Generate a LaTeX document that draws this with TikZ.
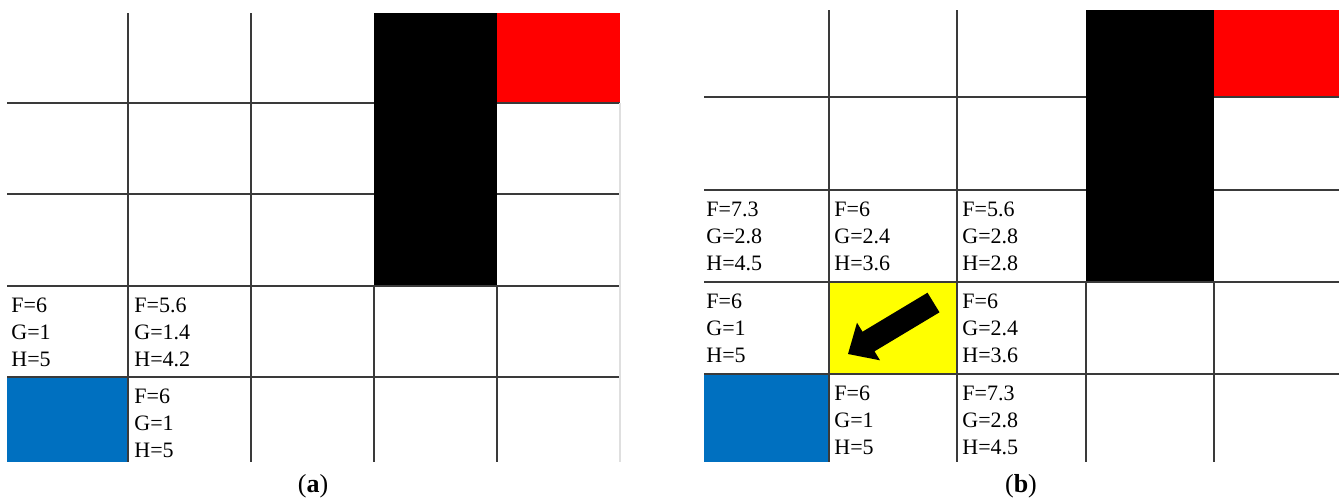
\documentclass[tikz,border=0pt]{standalone}
\usepackage{fontspec}
\setmainfont{Liberation Serif}
\definecolor{cblue}{HTML}{0070C0}
\definecolor{cred}{HTML}{FF0000}
\definecolor{cyellow}{HTML}{FFFF00}
\definecolor{gridc}{HTML}{3A3A3A}
\tikzset{
  gridline/.style={draw=gridc, line width=0.75pt},
  val/.style={anchor=base west, inner sep=0pt, font=\fontsize{11}{13}\selectfont},
  captxt/.style={font=\fontsize{13}{15}\selectfont, inner sep=0pt}
}
% \fgh{prefix}{x}{y top}{F}{G}{H}
\newcommand{\fgh}[6]{%
  \node[val] (#1F) at (#2,#3+26) {F=#4};
  \node[val] (#1G) at (#2,#3+53.5) {G=#5};
  \node[val] (#1H) at (#2,#3+80) {H=#6};
}
\begin{document}
\begin{tikzpicture}[x=0.5pt, y=-0.5pt]
\useasboundingbox (0,0) rectangle (1343,499);
% ---------- panel (a) ----------
\fill[cblue] (7,377) rectangle (128,462);
\fill[cred] (497,13) rectangle (620,103);
\fill[black] (374,13) rectangle (497,286);
\draw[gridline] (7,103) -- (374,103) (497,103) -- (620,103);
\draw[gridline] (7,194) -- (374,194) (497,194) -- (620,194);
\draw[gridline] (7,286) -- (620,286);
\draw[gridline] (7,377) -- (620,377);
\draw[gridline] (128,13) -- (128,462);
\draw[gridline] (251,13) -- (251,462);
\draw[gridline] (374,286) -- (374,462);
\draw[gridline] (497,286) -- (497,462);
\draw[draw=gray!25, line width=0.6pt] (620,103) -- (620,462);
\fgh{a1}{11}{286}{6}{1}{5}
\fgh{a2}{134}{286}{5.6}{1.4}{4.2}
\fgh{a3}{134}{377}{6}{1}{5}
\node[captxt] (capa) at (313,486) {(\textbf{a})};
% ---------- panel (b) ----------
\fill[cblue] (704,374) rectangle (829,462);
\fill[cred] (1214,10) rectangle (1339,97);
\fill[black] (1086,10) rectangle (1214,282);
\fill[cyellow] (829,282) rectangle (957,374);
\draw[gridline] (704,97) -- (1086,97) (1214,97) -- (1339,97);
\draw[gridline] (704,190) -- (1086,190) (1214,190) -- (1339,190);
\draw[gridline] (704,282) -- (1339,282);
\draw[gridline] (704,374) -- (1339,374);
\draw[gridline] (829,10) -- (829,462);
\draw[gridline] (957,10) -- (957,462);
\draw[gridline] (1086,282) -- (1086,462);
\draw[gridline] (1214,282) -- (1214,462);
\fgh{b1}{706}{190}{7.3}{2.8}{4.5}
\fgh{b2}{834}{190}{6}{2.4}{3.6}
\fgh{b3}{962}{190}{5.6}{2.8}{2.8}
\fgh{b4}{706}{282}{6}{1}{5}
\fgh{b5}{962}{282}{6}{2.4}{3.6}
\fgh{b6}{834}{374}{6}{1}{5}
\fgh{b7}{962}{374}{7.3}{2.8}{4.5}
% arrow in yellow cell
\fill[black] (927.5,292.7) -- (939.5,312.3) -- (874.5,351.3) -- (880,360.3)
  -- (848,354) -- (857,322.7) -- (862.5,331.7) -- cycle;
\node[captxt] (capb) at (1021,486) {(\textbf{b})};
\end{tikzpicture}
\end{document}
